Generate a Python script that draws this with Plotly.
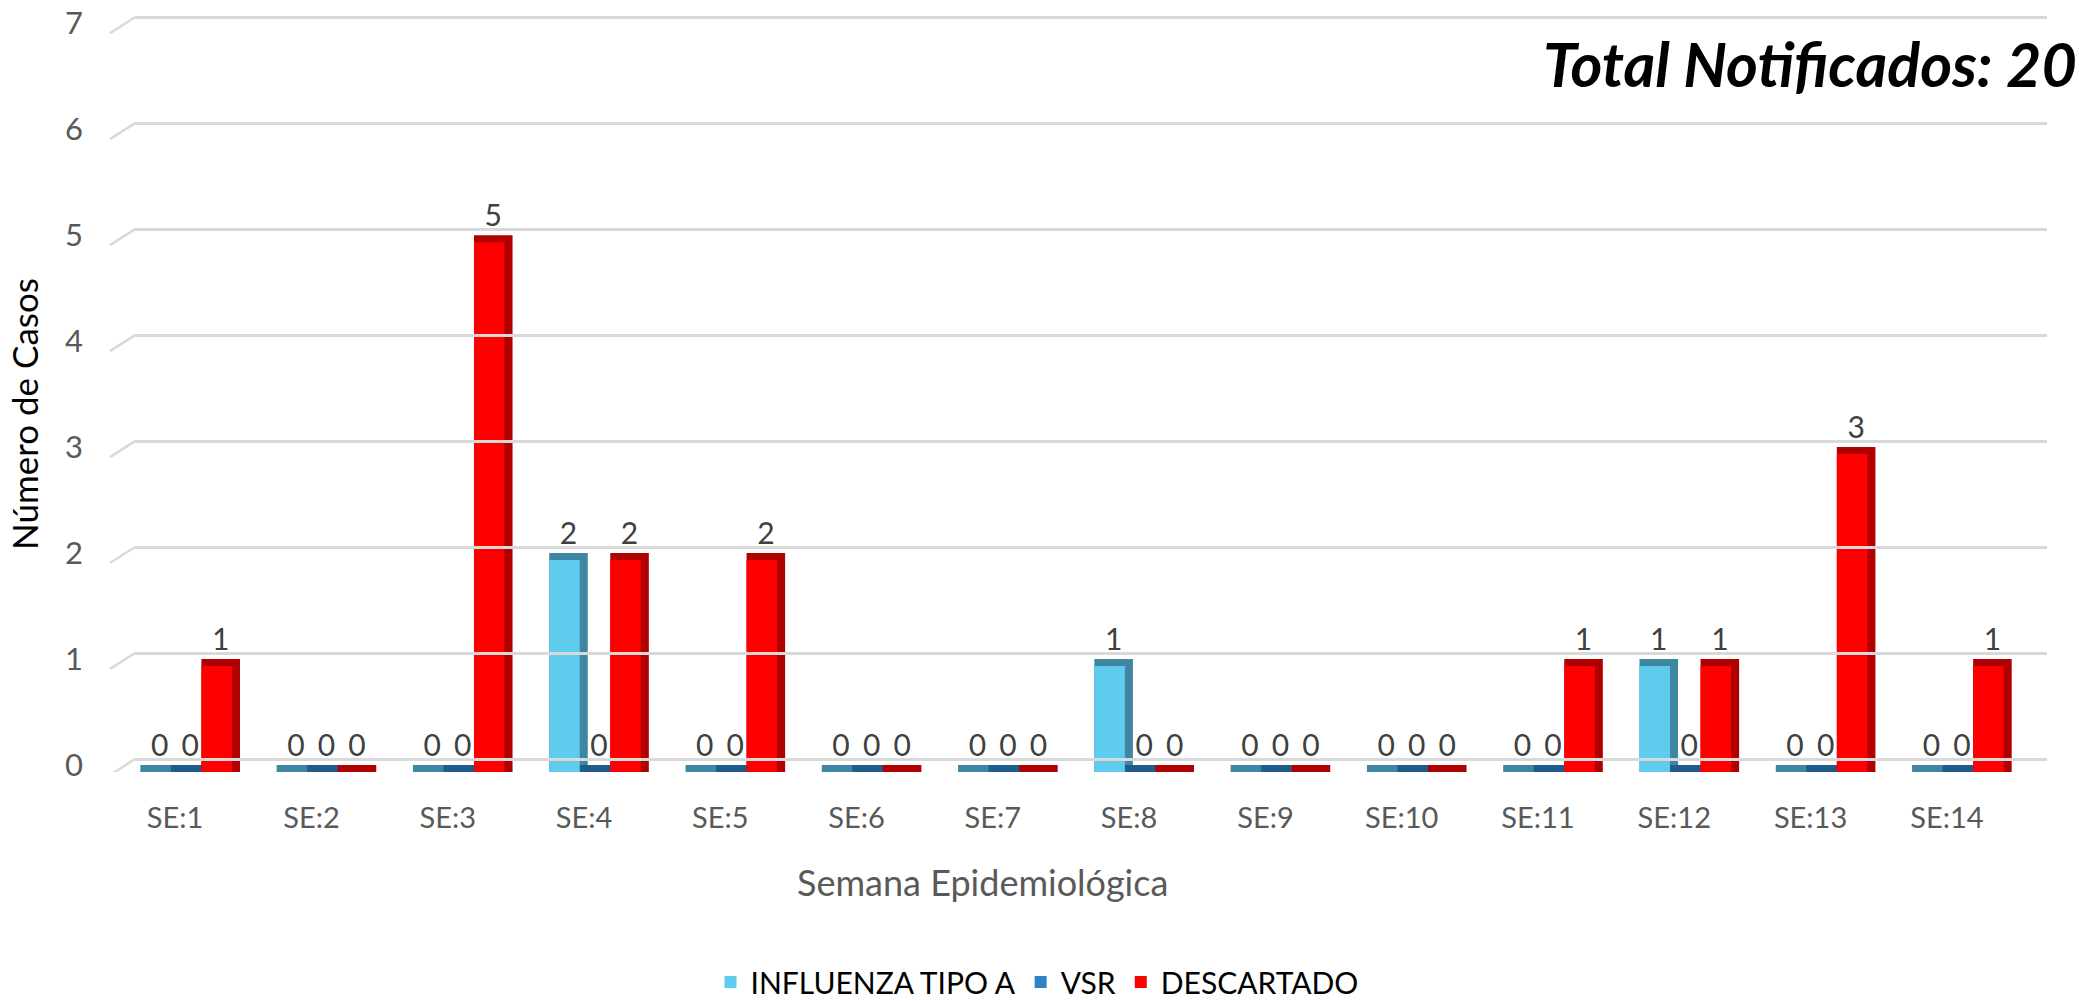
import plotly.graph_objects as go

categories = ["SE:1", "SE:2", "SE:3", "SE:4", "SE:5", "SE:6", "SE:7",
              "SE:8", "SE:9", "SE:10", "SE:11", "SE:12", "SE:13", "SE:14"]
influenza_a = [0, 0, 0, 2, 0, 0, 0, 1, 0, 0, 0, 1, 0, 0]
vsr = [0, 0, 0, 0, 0, 0, 0, 0, 0, 0, 0, 0, 0, 0]
descartado = [1, 0, 5, 2, 2, 0, 0, 0, 0, 0, 1, 1, 3, 1]
y_ticks = [0, 1, 2, 3, 4, 5, 6, 7]
total_label = "Total Notificados: 20"
x_title = "Semana Epidemiológica"
y_title = "Número de Casos"

series = [
    ("INFLUENZA TIPO A", influenza_a, "#5ECBEF", "#3F86A3"),
    ("VSR", vsr, "#2D83C5", "#1F5C8C"),
    ("DESCARTADO", descartado, "#FF0000", "#B00000"),
]

FONT = "Lato, 'Open Sans', sans-serif"
W, H = 2079, 1001
Y_TOP = 7.2
unit_px = 106.0
ZERO_PX = 772
L, R = 118, 32
B = H - ZERO_PX
plot_h = unit_px * Y_TOP
T = int(round(H - B - plot_h))
plot_h = H - B - T
plot_w = W - L - R


def px_x(px):
    return (px - L) / plot_w


def px_y(py):
    return (H - B - py) / plot_h


bar_w = 0.224          # width of each bar in category units
dx = 0.059             # 3-D side depth (category units)
dy = 7 / unit_px       # 3-D top depth (value units)
grid_shift = 13 / unit_px

fig = go.Figure()

# shadow (side/top) bars, carrying the value labels
for i, (name, vals, col, dark) in enumerate(series):
    off = -1.5 * bar_w + i * bar_w
    fig.add_trace(go.Bar(
        x=categories, y=[v + dy for v in vals], base=0,
        offset=off, width=bar_w + dx,
        marker=dict(color=dark, line=dict(width=0)),
        text=[str(v) for v in vals], texttemplate="%{text}",
        textposition="outside", constraintext="none", cliponaxis=False,
        textfont=dict(family=FONT, size=30, color="#404040"),
        showlegend=False, hoverinfo="skip", name=name + " 3d",
    ))

# front faces
for i, (name, vals, col, dark) in enumerate(series):
    off = -1.5 * bar_w + i * bar_w
    fig.add_trace(go.Bar(
        x=categories, y=vals, offset=off, width=bar_w,
        marker=dict(color=col, line=dict(width=0)),
        name=name, hoverinfo="skip",
    ))

# back-wall gridlines on a shifted overlay axis
fig.add_trace(go.Scatter(x=[None], y=[None], xaxis="x2", yaxis="y2",
                         showlegend=False, hoverinfo="skip"))

x_main_end = px_x(2026)
x2_start = px_x(135)

shapes = []
for k in y_ticks:
    shapes.append(dict(type="line", xref="paper", yref="y",
                       x0=px_x(110), x1=x2_start,
                       y0=k - 3 / unit_px, y1=k + grid_shift,
                       line=dict(color="#D9D9D9", width=2.5)))

fig.update_layout(
    width=W, height=H,
    margin=dict(l=L, r=R, t=T, b=B, autoexpand=False),
    paper_bgcolor="white", plot_bgcolor="rgba(0,0,0,0)",
    barmode="overlay",
    font=dict(family=FONT, color="#595959"),
    xaxis=dict(domain=[0, x_main_end], type="category", automargin=False,
               range=[-0.5, len(categories) - 0.5],
               showgrid=False, zeroline=False, showline=False,
               ticks="", ticklabelstandoff=26, ticklabelshift=-11,
               tickfont=dict(family=FONT, size=29, color="#595959")),
    yaxis=dict(range=[0, Y_TOP], tickvals=y_ticks, showgrid=False,
               automargin=False,
               zeroline=False, showline=False, ticks="",
               ticklabelstandoff=34, ticklabelshift=-7,
               tickfont=dict(family=FONT, size=31, color="#595959")),
    xaxis2=dict(domain=[x2_start, 1], anchor="y2", range=[0, 1],
                automargin=False,
                showgrid=False, zeroline=False, showticklabels=False,
                showline=False, ticks=""),
    yaxis2=dict(overlaying="y", anchor="x2",
                range=[-grid_shift, Y_TOP - grid_shift], automargin=False,
                tickvals=y_ticks, showgrid=True, gridcolor="#D9D9D9",
                gridwidth=2.5, zeroline=False, showticklabels=False,
                showline=False, ticks="", layer="below traces"),
    legend=dict(orientation="h", x=px_x(1037), xanchor="center",
                y=px_y(982), yanchor="middle",
                font=dict(family=FONT, size=30, color="#000000"),
                itemsizing="constant", traceorder="normal"),
    shapes=shapes,
    annotations=[
        dict(text="<b><i>" + total_label + "</i></b>",
             xref="paper", yref="paper",
             x=px_x(1541), xanchor="left", y=px_y(64), yanchor="middle",
             showarrow=False,
             font=dict(family=FONT, size=61, color="#000000")),
        dict(text=x_title, xref="paper", yref="paper",
             x=px_x(982), xanchor="center", y=px_y(882), yanchor="middle",
             showarrow=False,
             font=dict(family=FONT, size=36, color="#595959")),
        dict(text=y_title, xref="paper", yref="paper", textangle=-90,
             x=px_x(24), xanchor="center", y=px_y(414), yanchor="middle",
             showarrow=False,
             font=dict(family=FONT, size=35, color="#000000")),
    ],
)

fig.write_html("out.html",
               config={"displayModeBar": False},
               post_script="document.body.style.margin='0';"
                           "document.body.style.overflow='hidden';")
